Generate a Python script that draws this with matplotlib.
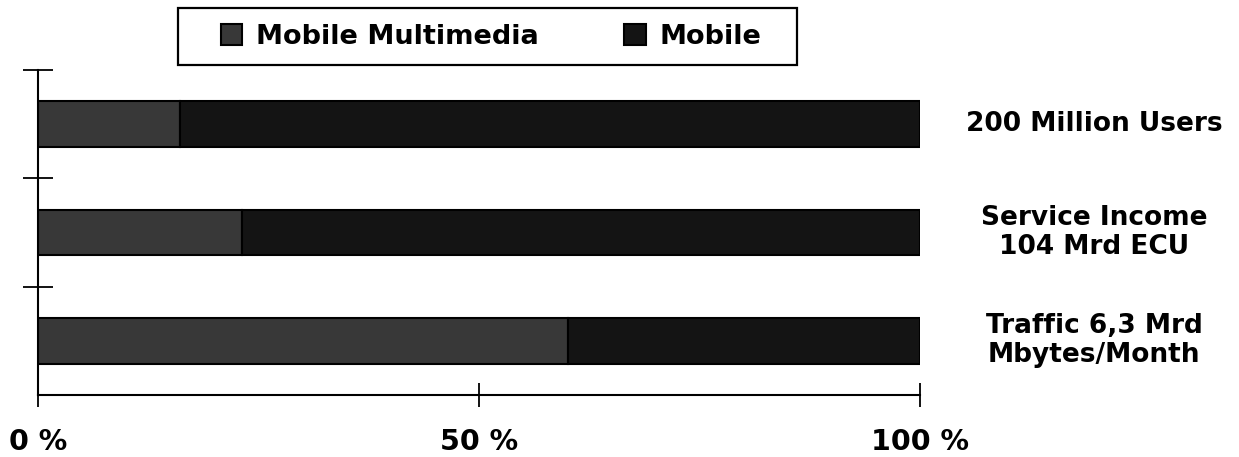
import matplotlib
matplotlib.use("Agg")
import matplotlib.pyplot as plt
from matplotlib.patches import Rectangle
from matplotlib import transforms
import numpy as np

# Market share split per indicator (percent of total)
categories = ["200 Million Users",
              "Service Income\n104 Mrd ECU",
              "Traffic 6,3 Mrd\nMbytes/Month"]
mobile_multimedia = [16.1, 23.1, 60.1]
mobile = [100 - v for v in mobile_multimedia]
series_names = ["Mobile Multimedia", "Mobile"]
xtick_values = [0, 50, 100]
xtick_labels = ["0 %", "50 %", "100 %"]

plt.rcParams["font.family"] = ["DejaVu Sans"]
plt.rcParams["font.weight"] = "bold"

W, H = 1239, 457
fig = plt.figure(figsize=(W / 100, H / 100), dpi=100)
ax = fig.add_axes([38 / W, 1 - 395 / H, (920 - 38) / W, (395 - 70) / H])

n = len(categories)
centers = np.arange(n) + 0.5  # top category drawn highest
ypos = n - centers
bar_h = 0.42

c_mm = "#383838"
c_mob = "#141414"
ax.barh(ypos, mobile_multimedia, height=bar_h, color=c_mm,
        edgecolor="black", linewidth=1.5, label=series_names[0])
ax.barh(ypos, mobile, left=mobile_multimedia, height=bar_h, color=c_mob,
        edgecolor="black", linewidth=1.5, label=series_names[1])

ax.set_xlim(0, 100)
ax.set_ylim(0, n)

for s in ["top", "right"]:
    ax.spines[s].set_visible(False)
for s in ["left", "bottom"]:
    ax.spines[s].set_linewidth(1.5)

ax.set_xticks(xtick_values)
ax.set_xticklabels(xtick_labels, fontsize=20.5, fontweight="bold")
ax.tick_params(axis="x", direction="inout", length=17, width=1.3, pad=15)
ax.set_yticks(np.arange(1, n + 1))
ax.set_yticklabels([])
ax.tick_params(axis="y", direction="inout", length=21, width=1.3)

# category names to the right of the bars
lab_tr = transforms.blended_transform_factory(fig.transFigure, ax.transData)
for y, lab in zip(ypos, categories):
    ax.text(1094 / W, y, lab, transform=lab_tr,
            fontsize=19, fontweight="bold", ha="center", va="center",
            multialignment="center", linespacing=1.15)

# legend with a square black frame
leg = fig.legend(loc="center", bbox_to_anchor=(491 / W, 1 - 37 / H),
                 ncol=2, frameon=False,
                 handlelength=0.8, handleheight=0.8, handletextpad=0.5,
                 columnspacing=3.15, borderpad=0.3,
                 prop={"weight": "bold", "size": 19.5})
fig.patches.append(Rectangle((178 / W, 1 - 65 / H), (797 - 178) / W, 57 / H,
                             transform=fig.transFigure, fill=False,
                             edgecolor="black", linewidth=1.6))

fig.savefig("out.png", dpi=100, facecolor="white")
